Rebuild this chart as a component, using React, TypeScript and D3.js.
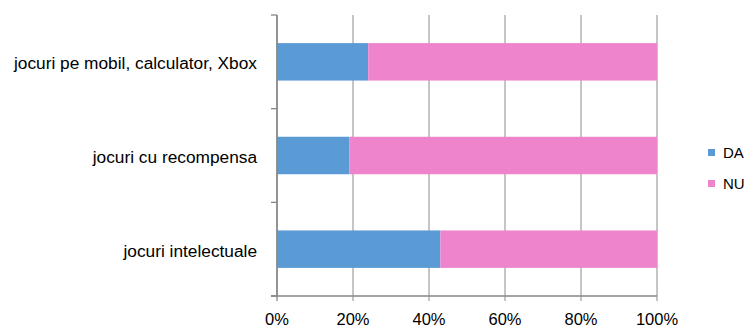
import React from "react";
import * as d3 from "d3";

const categories = ["jocuri pe mobil, calculator, Xbox", "jocuri cu recompensa", "jocuri intelectuale"];
const daValues = [24, 19, 43];
const nuValues = [76, 81, 57];
const seriesNames = ["DA", "NU"];
const colors = ["#5B9BD5", "#EE84CC"];
const xTicks = [0, 20, 40, 60, 80, 100];

export default function App() {
  const W = 748, H = 327;
  const left = 277, right = 657, top = 15, bottom = 296;
  const x = d3.scaleLinear().domain([0, 100]).range([left, right]);
  const y = d3.scaleBand<string>().domain(categories).range([top, bottom]).paddingInner(0.6).paddingOuter(0.3);
  const yOuter = d3.scaleBand<string>().domain(categories).range([top, bottom]);
  const font = "Liberation Sans, Arial, sans-serif";
  const rows = categories.map((c, i) => ({ c, vals: [daValues[i], nuValues[i]] }));
  return (
    <svg width={W} height={H} style={{ position: "absolute", left: 0, top: 0 }} fontFamily={font}>
      <rect width={W} height={H} fill="#fff" />
      {xTicks.map((t) => (
        <line key={t} x1={x(t)} x2={x(t)} y1={top} y2={bottom + 5} stroke={t === 0 ? "#868686" : "#A6A6A6"} strokeWidth={1.3} />
      ))}
      {rows.map((r) => {
        const stack = d3.cumsum(r.vals);
        return r.vals.map((v, j) => (
          <rect key={r.c + j} x={x(stack[j] - v)} width={x(stack[j]) - x(stack[j] - v)} y={y(r.c)!} height={y.bandwidth()} fill={colors[j]} />
        ));
      })}
      <line x1={left} x2={left} y1={top} y2={bottom} stroke="#868686" strokeWidth={1.3} />
      <line x1={left - 6} x2={right} y1={bottom} y2={bottom} stroke="#868686" strokeWidth={1.3} />
      {[...categories.map((c) => yOuter(c)!), bottom].map((v, i) => (
        <line key={i} x1={left - 6} x2={left} y1={v} y2={v} stroke="#868686" strokeWidth={1.3} />
      ))}
      {categories.map((c) => (
        <text key={c} x={257} y={y(c)! + y.bandwidth() / 2} dy="0.43em" textAnchor="end" fontSize={17.3} fill="#000">{c}</text>
      ))}
      {xTicks.map((t) => (
        <text key={t} x={x(t)} y={325} textAnchor="middle" fontSize={16.5} fill="#000">{t}%</text>
      ))}
      {seriesNames.map((s, i) => (
        <g key={s} transform={`translate(708, ${149 + i * 31})`}>
          <rect width={7} height={7} fill={colors[i]} />
          <text x={15} y={8.5} fontSize={15} fill="#000">{s}</text>
        </g>
      ))}
    </svg>
  );
}
